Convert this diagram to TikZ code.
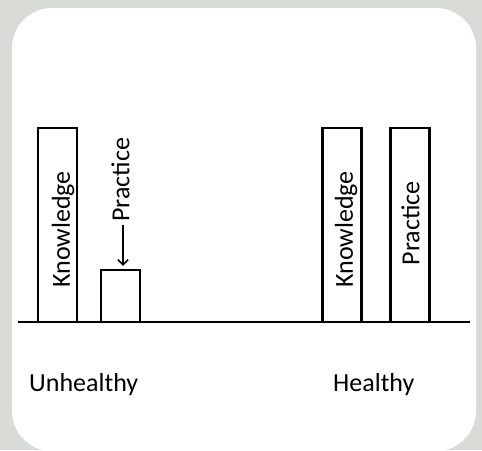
\documentclass[tikz,border=0pt]{standalone}
\usepackage{fontspec}
\setmainfont{Carlito}
\usetikzlibrary{arrows.meta}
\definecolor{panelgray}{RGB}{216,219,214}
\tikzstyle{bar}=[draw,line width=2.5pt,fill=white,inner sep=0pt,minimum width=39pt]
\tikzstyle{vlabel}=[rotate=90,inner sep=0pt,font=\fontsize{26}{30}\selectfont]
\tikzstyle{glabel}=[anchor=base west,inner sep=0pt,font=\fontsize{26}{30}\selectfont]

\begin{document}
\begin{tikzpicture}[x=1pt,y=-1pt]
    \useasboundingbox (0,0) rectangle (482,450);
    \clip (0,0) rectangle (482,450);
    \fill[panelgray] (0,0) rectangle (482,450);
    \fill[white,rounded corners=40pt] (12,8) rectangle (476,451);

    % ground line
    \coordinate (gl) at (18,322);
    \coordinate (gr) at (470,322);
    \draw[line width=2pt] (gl) -- (gr);

    % bars
    \node[bar,minimum height=194pt] (ku) at (57.5,225) {};
    \node[bar,minimum height=52pt]  (pu) at (120.5,296) {};
    \node[bar,minimum height=194pt] (kh) at (342,225) {};
    \node[bar,minimum height=194pt] (ph) at (410,225) {};

    \node[vlabel] (tku) at (63,229.5)  {Knowledge};
    \node[vlabel] (tpu) at (120.5,180) {Practice};
    \node[vlabel] (tkh) at (346,229.5) {Knowledge};
    \node[vlabel] (tph) at (410.5,223.5) {Practice};

    \draw[line width=1.5pt,-{Straight Barb[length=5pt,width=10pt]}]
        ([xshift=2.5pt,yshift=-3pt]tpu.west) -- ([xshift=2.5pt,yshift=3pt]pu.north);

    \node[glabel] (un) at (29,391)  {Unhealthy};
    \node[glabel] (he) at (333,391) {Healthy};
\end{tikzpicture}
\end{document}
